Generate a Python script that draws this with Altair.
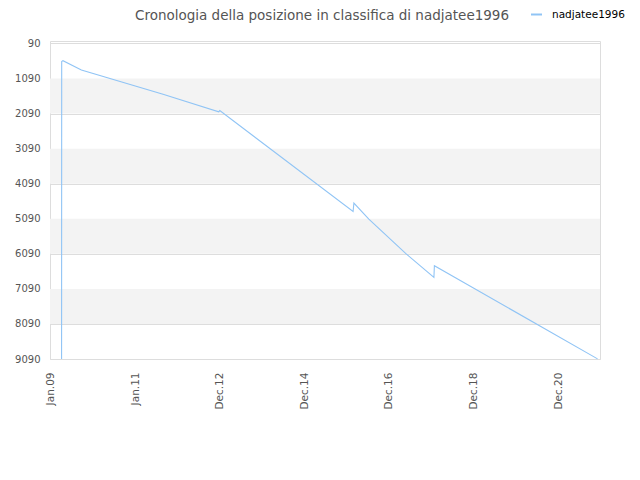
import altair as alt
import pandas as pd

# ---- data ----
series_name = "nadjatee1996"
dates = ["2009-04-05", "2009-04-06", "2009-04-17", "2009-09-23", "2011-08-29",
         "2012-12-22", "2012-12-31", "2016-02-25", "2016-03-03", "2016-07-10",
         "2017-05-26", "2018-01-23", "2018-01-27", "2021-12-06"]
ranks = [9090, 605, 580, 845, 1537, 2041, 2004, 4882, 4643, 5098,
         6087, 6762, 6429, 9087]

y_ticks = [90, 1090, 2090, 3090, 4090, 5090, 6090, 7090, 8090, 9090]
band_start = [1090, 3090, 5090, 7090]
band_end = [2090, 4090, 6090, 8090]
x_ticks = ["2009-01-01T12:00:00", "2011-01-01T12:00:00", "2012-12-31T12:00:00",
           "2014-12-31T12:00:00", "2016-12-30T12:00:00", "2018-12-30T12:00:00",
           "2020-12-29T12:00:00"]
x_domain = ["2008-12-26T00:00:00", "2021-12-27T00:00:00"]
y_domain = [20, 9090]

title_text = "Cronologia della posizione in classifica di nadjatee1996"

df = pd.DataFrame({"date": dates, "rank": ranks,
                   "i": list(range(len(dates))),
                   "series": [series_name] * len(dates)})
bands = pd.DataFrame({"y0": band_start, "y1": band_end})

W, H = 550, 318

yscale = alt.Scale(domain=y_domain, reverse=True, nice=False, zero=False)
xscale = alt.Scale(domain=x_domain, nice=False)

y_axis = alt.Axis(values=y_ticks, format="d", labelColor="#555555",
                  labelFontSize=10, labelOverlap=False,
                  labelFont="DejaVu Sans", ticks=False, domain=False,
                  grid=True, gridColor="#dddddd", labelPadding=10)

band_layer = alt.Chart(bands).mark_rect(color="#f3f3f3").encode(
    x=alt.value(0), x2=alt.value(W),
    y=alt.Y("y0:Q", scale=yscale, axis=y_axis, title=None),
    y2="y1:Q",
)

line_layer = alt.Chart(df).mark_line(strokeWidth=1.1, interpolate="linear").encode(
    x=alt.X("date:T", scale=xscale, title=None,
            axis=alt.Axis(values=x_ticks, format="%b.%y", labelAngle=270,
                          labelColor="#555555", labelFontSize=10.5,
                          labelFont="DejaVu Sans", ticks=False, domain=False,
                          grid=False, labelPadding=13, labelOverlap=False)),
    y=alt.Y("rank:Q", scale=yscale, title=None, axis=y_axis),
    order="i:Q",
    color=alt.Color("series:N", scale=alt.Scale(range=["#90C4F5"]), title=None,
                    legend=alt.Legend(orient="none", legendX=480, legendY=-33,
                                      symbolType="stroke", symbolSize=121,
                                      symbolStrokeWidth=2, labelFontSize=10.5,
                                      labelOffset=9,
                                      labelFont="DejaVu Sans", labelColor="#000000",
                                      padding=0)),
)

chart = alt.layer(band_layer, line_layer).properties(
    width=W, height=H,
    autosize=alt.AutoSizeParams(type="none"),
    padding={"left": 42, "top": 33, "right": 32, "bottom": 113},
    title=alt.TitleParams(title_text, fontSize=13.5, font="DejaVu Sans",
                          color="#555555", fontWeight="normal", anchor="middle",
                          offset=-14, dx=-3),
).configure_view(stroke="#dddddd", strokeWidth=1).configure(background="white")

chart.save("out.html", embed_options={"renderer": "svg", "actions": False})
